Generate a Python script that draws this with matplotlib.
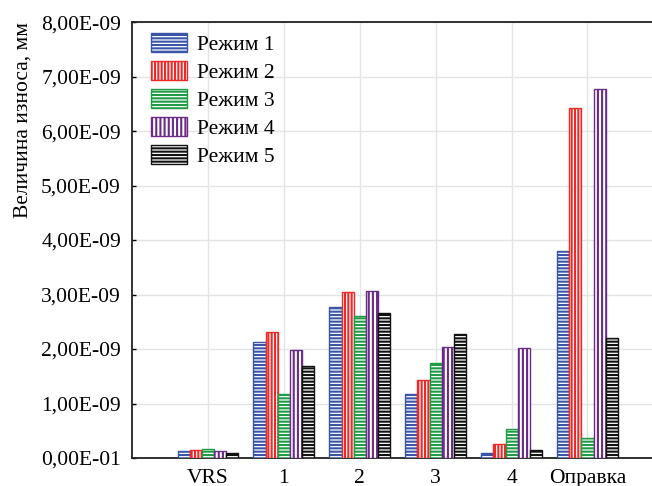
import matplotlib
matplotlib.use('Agg')
import matplotlib.pyplot as plt
import numpy as np

plt.rcParams['font.family'] = ['Liberation Serif', 'DejaVu Serif']
plt.rcParams['hatch.linewidth'] = 1.5

categories = ['VRS', '1', '2', '3', '4', 'Оправка']
series_names = ['Режим 1', 'Режим 2', 'Режим 3', 'Режим 4', 'Режим 5']

# values in 1e-9 mm
rezhim1 = [0.13, 2.13, 2.78, 1.18, 0.09, 3.79]
rezhim2 = [0.14, 2.32, 3.05, 1.43, 0.25, 6.43]
rezhim3 = [0.16, 1.17, 2.60, 1.74, 0.54, 0.36]
rezhim4 = [0.12, 1.99, 3.07, 2.04, 2.01, 6.78]
rezhim5 = [0.09, 1.68, 2.67, 2.28, 0.15, 2.20]

yticks = [0, 1e-9, 2e-9, 3e-9, 4e-9, 5e-9, 6e-9, 7e-9, 8e-9]
ytick_labels = ['0,00E-01', '1,00E-09', '2,00E-09', '3,00E-09', '4,00E-09',
                '5,00E-09', '6,00E-09', '7,00E-09', '8,00E-09']

colors = ['#3a55a8', '#f02828', '#1f9a45', '#6b2a85', '#111111']
hatches = ['-----', '|||||', '-----', '||||', '-----']
data = [rezhim1, rezhim2, rezhim3, rezhim4, rezhim5]

fig = plt.figure(figsize=(6.52, 4.86), dpi=100)
ax = fig.add_axes([0.2025, 0.0576, 0.815, 0.897])

x = np.arange(len(categories))
w = 0.16
for i, (vals, name) in enumerate(zip(data, series_names)):
    ax.bar(x + (i - 2) * w, np.array(vals) * 1e-9, width=w, facecolor='white',
           edgecolor=colors[i], hatch=hatches[i], linewidth=1.0, label=name, zorder=3)

ax.set_xlim(-1, 6)
ax.set_ylim(0, 8e-9)
ax.set_xticks(x)
ax.set_xticklabels(categories, fontsize=15.5)
ax.set_yticks(yticks)
ax.set_yticklabels(ytick_labels, fontsize=15.5)
ax.tick_params(axis='both', direction='in', length=3, width=1, pad=8, top=True)
ax.tick_params(axis='x', length=0, pad=8)
ax.grid(True, color='#e4e4e4', linewidth=1, zorder=0)
ax.set_axisbelow(True)
for s in ax.spines.values():
    s.set_linewidth(1.3)
    s.set_color('#222222')

ax.set_ylabel('Величина износа, мм', fontsize=15.5, loc='top', labelpad=6)

ax.legend(loc='upper left', bbox_to_anchor=(0.036, 0.975), frameon=False,
          fontsize=15.5, handlelength=1.65, handleheight=1.0, handletextpad=0.5,
          labelspacing=0.28, borderpad=0, borderaxespad=0)

fig.savefig('out.png', dpi=100)
